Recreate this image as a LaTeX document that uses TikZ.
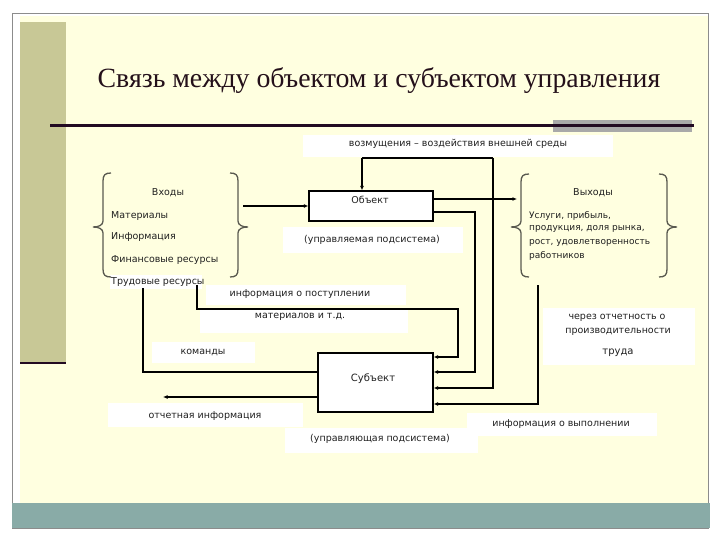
\documentclass[tikz,border=0pt]{standalone}
\usepackage{fontspec}
\setmainfont{Liberation Serif}
\newfontfamily\labfont{DejaVu Sans}
\usetikzlibrary{arrows.meta}
\definecolor{bgyel}{HTML}{FFFFE0}
\definecolor{olivebar}{HTML}{C8C896}
\definecolor{tealbar}{HTML}{89ABA7}
\definecolor{framegrey}{HTML}{8C8C8C}
\definecolor{greyblock}{HTML}{A9A9A9}
\definecolor{titlecol}{HTML}{24101A}
\definecolor{rulecol}{HTML}{220A22}
\definecolor{bracecol}{HTML}{5A5A50}
\definecolor{labcol}{HTML}{202020}
\begin{document}
\begin{tikzpicture}[x=1pt,y=-1pt,
  conn/.style={draw=black, line width=1.1pt},
  thickconn/.style={draw=black, line width=1.6pt},
  arr/.style={conn, -{Latex[length=4.5pt,width=4pt]}},
  thickarr/.style={thickconn, -{Latex[length=4.5pt,width=4pt]}},
  lbl/.style={font=\labfont\fontsize{9.5}{11}\selectfont, text=labcol, inner sep=0pt},
  smlbl/.style={font=\labfont\fontsize{9}{11}\selectfont, text=labcol, inner sep=0pt},
  wbox/.style={fill=white, draw=none, inner sep=0pt},
  mainbox/.style={draw=black, line width=1.3pt, fill=white, inner sep=0pt},
  bracepath/.style={draw=bracecol, line width=1.3pt}
]
\useasboundingbox (0,0) rectangle (720,540);
% slide background
\fill[white] (0,0) rectangle (720,540);
\fill[bgyel] (20,16) rectangle (708,503);
\draw[framegrey, line width=0.8pt] (12.5,13.5) rectangle (708.5,528);
\fill[tealbar] (12,503) rectangle (710,528);
\fill[olivebar] (20,22) rectangle (66,363);
\draw[rulecol, line width=2.5pt] (20,363) -- (66,363);
% title
\node[font=\fontsize{27.8}{32}\selectfont, text=titlecol, inner sep=0pt] (title) at (379,81) {Связь между объектом и субъектом управления};
\fill[greyblock] (553,120) rectangle (692,132);
\draw[rulecol, line width=3pt] (50,125.5) -- (694,125.5);

% white label boxes
\node[wbox, minimum width=310pt, minimum height=22pt] (distbox) at (458,146) {};
\node[wbox, minimum width=180pt, minimum height=25pt] (upr1box) at (373,240) {};
\node[wbox, minimum width=200pt, minimum height=20pt] (ip1box) at (306,295) {};
\node[wbox, minimum width=208pt, minimum height=24pt] (ip2box) at (304,321) {};
\node[wbox, minimum width=103pt, minimum height=21pt] (cmdbox) at (203.5,352.5) {};
\node[wbox, minimum width=195pt, minimum height=24pt] (repbox) at (205.5,415) {};
\node[wbox, minimum width=193pt, minimum height=25pt] (upr2box) at (381,440) {};
\node[wbox, minimum width=190pt, minimum height=23pt] (vypbox) at (562,424.5) {};
\node[wbox, minimum width=152pt, minimum height=57pt] (perfbox) at (619,336.5) {};
\node[wbox, minimum width=92pt, minimum height=14pt] (trudbox) at (156,282) {};

% main boxes
\node[mainbox, minimum width=124pt, minimum height=30pt] (obj) at (371,206) {};
\node[mainbox, minimum width=115pt, minimum height=59pt] (subj) at (375.5,382.5) {};

% braces
\draw[bracepath] (111,173) .. controls (105,173) and (103,175) .. (103,181) -- (103,221)
  .. controls (103,225) and (99,227) .. (93,227) .. controls (99,227) and (103,229) .. (103,233)
  -- (103,269) .. controls (103,275) and (105,277) .. (111,277);
\draw[bracepath] (230,173) .. controls (236,173) and (238,175) .. (238,181) -- (238,221)
  .. controls (238,225) and (242,227) .. (248,227) .. controls (242,227) and (238,229) .. (238,233)
  -- (238,269) .. controls (238,275) and (236,277) .. (230,277);
\draw[bracepath] (529,174) .. controls (523,174) and (521,176) .. (521,182) -- (521,221)
  .. controls (521,225) and (517,227) .. (511,227) .. controls (517,227) and (521,229) .. (521,233)
  -- (521,269) .. controls (521,275) and (523,277) .. (529,277);
\draw[bracepath] (659,174) .. controls (665,174) and (667,176) .. (667,182) -- (667,221)
  .. controls (667,225) and (671,227) .. (677,227) .. controls (671,227) and (667,229) .. (667,233)
  -- (667,269) .. controls (667,275) and (665,277) .. (659,277);

% named free ends
\coordinate (inbr) at (243,206);
\coordinate (outbr) at (517,199);
\coordinate (distL) at (362,158);
\coordinate (distR) at (493,158);
\coordinate (inA) at (197,285);
\coordinate (inB) at (143,288);
\coordinate (outA) at (538,285);
\coordinate (rep) at (163,397);

% connectors
\draw[arr] (inbr) -- (obj.west);
\draw[arr] ([yshift=7pt]obj.east) -- (outbr);
\draw[thickconn] (distR) -- (distL);
\draw[thickarr] (distL) -- (obj.north -| distL);
\draw[thickarr] (distR) -- (493,388) -- (subj.east |- 0,388);
\draw[conn, -{Latex[length=4.5pt,width=4pt]}] ([yshift=-6pt]obj.east) -- (475,212) -- (475,372) -- (subj.east |- 0,372);
\draw[thickarr] (inA) -- (197,309) -- (458,309) -- (458,357) -- (subj.east |- 0,357);
\draw[arr] (outA) -- (538,404) -- (subj.east |- 0,404);
\draw[conn] (subj.west |- 0,372) -- (143,372) -- (inB);
\draw[arr] (subj.west |- 0,397) -- (rep);

% texts
\node[lbl] (dist) at (458,144) {возмущения – воздействия внешней среды};
\node[lbl] (objt) at (370,200) {Объект};
\node[lbl, font=\labfont\fontsize{10}{12}\selectfont] (subjt) at (373,379) {Субъект};
\node[lbl] (upr1) at (372,240) {(управляемая подсистема)};
\node[lbl] (vh) at (168,193) {Входы};
\node[lbl, anchor=west] (mat) at (111,216) {Материалы};
\node[lbl, anchor=west] (inf) at (111,237) {Информация};
\node[lbl, anchor=west] (fin) at (111,260) {Финансовые ресурсы};
\node[lbl, anchor=west] (trud) at (111,282) {Трудовые ресурсы};
\node[lbl] (vyh) at (593,193) {Выходы};
\node[smlbl, anchor=west] (o1) at (529,216) {Услуги, прибыль,};
\node[smlbl, anchor=west] (o2) at (529,229) {продукция, доля рынка,};
\node[smlbl, anchor=west] (o3) at (529,243) {рост, удовлетворенность};
\node[smlbl, anchor=west] (o4) at (529,256) {работников};
\node[lbl] (ip1) at (300,294) {информация о поступлении};
\node[lbl] (ip2) at (300,317) {материалов и т.д.};
\node[lbl] (cmd) at (203,352) {команды};
\node[lbl] (repl) at (205,416) {отчетная информация};
\node[lbl] (upr2) at (380,439) {(управляющая подсистема)};
\node[lbl] (vyp) at (561,424) {информация о выполнении};
\node[lbl] (p1) at (617,318) {через отчетность о};
\node[lbl] (p2) at (618,332) {производительности};
\node[lbl, font=\labfont\fontsize{10}{12}\selectfont] (p3) at (618,353) {труда};
\end{tikzpicture}
\end{document}
